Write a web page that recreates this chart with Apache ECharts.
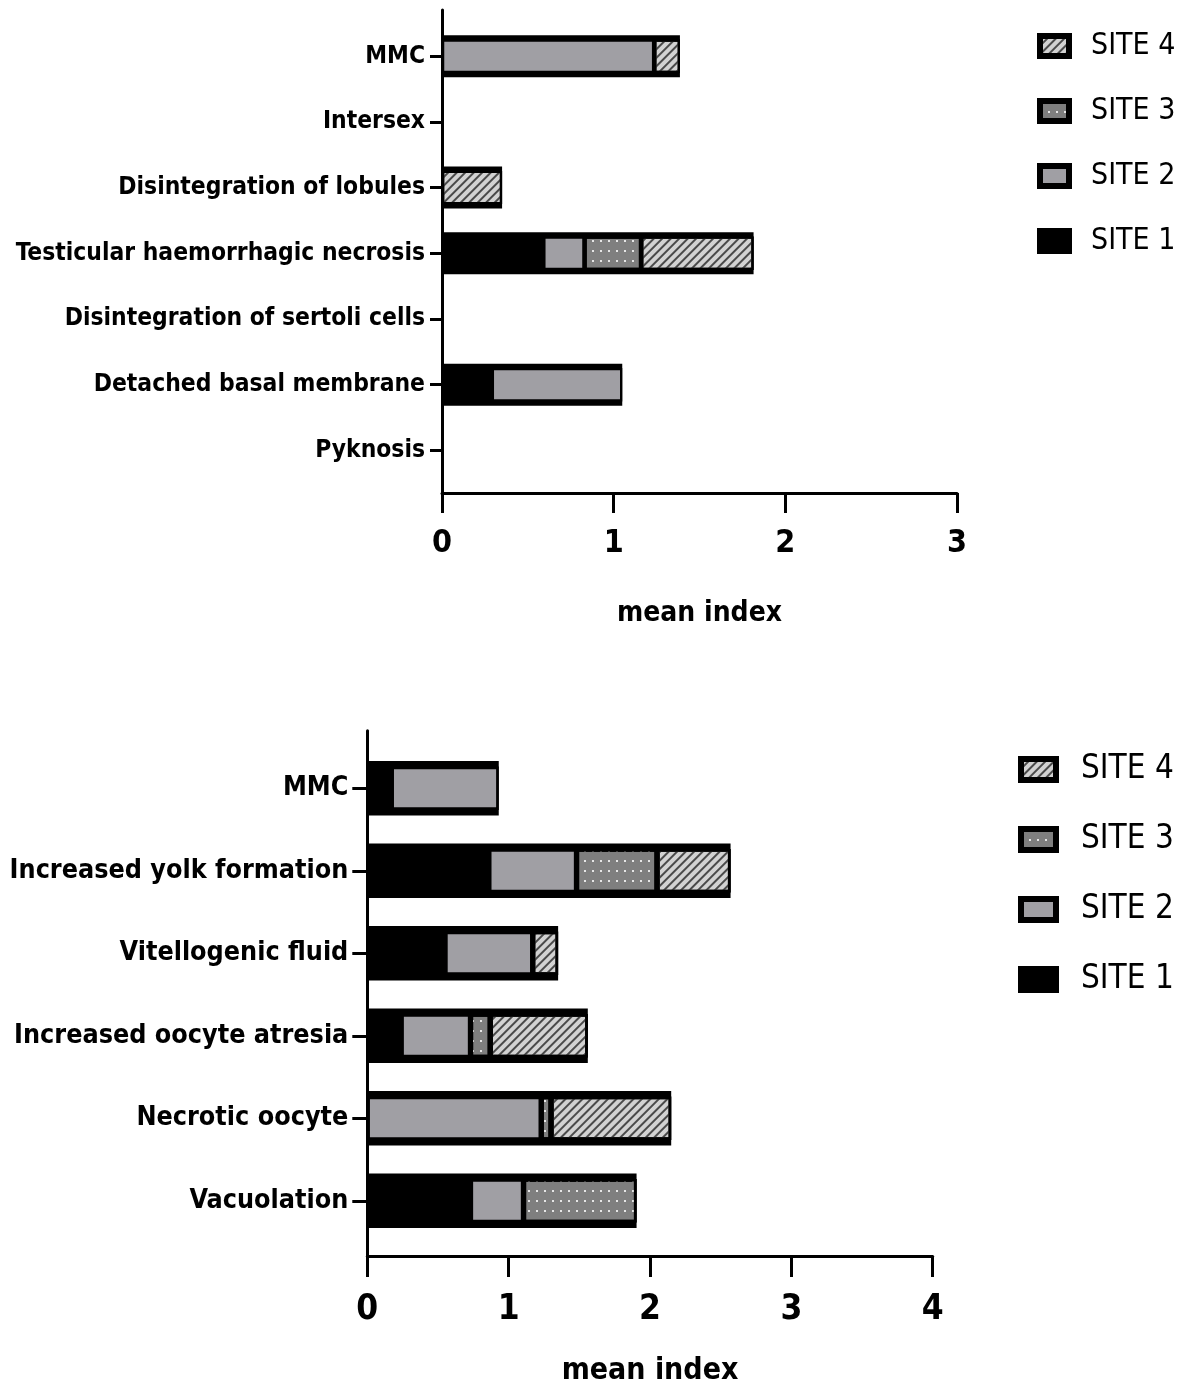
<!DOCTYPE html>
<html>
<head>
<meta charset="utf-8">
<script src="https://cdn.jsdelivr.net/npm/echarts@6/dist/echarts.min.js"></script>
<style>
html,body{margin:0;padding:0;background:#fff;}
#c{width:1185px;height:1389px;}
</style>
</head>
<body>
<div id="c"></div>
<script>
// ---- Top chart (testis) ----
const topCategories = ['MMC','Intersex','Disintegration of lobules','Testicular haemorrhagic necrosis','Disintegration of sertoli cells','Detached basal membrane','Pyknosis'];
const topSite1 = [0, 0, 0, 0.59, 0, 0.29, 0];
const topSite2 = [1.236, 0, 0, 0.24, 0, 0.76, 0];
const topSite3 = [0, 0, 0, 0.33, 0, 0, 0];
const topSite4 = [0.15, 0, 0.35, 0.655, 0, 0, 0];
const topTicks = [0, 1, 2, 3];

// ---- Bottom chart (ovary) ----
const botCategories = ['MMC','Increased yolk formation','Vitellogenic fluid','Increased oocyte atresia','Necrotic oocyte','Vacuolation'];
const botSite1 = [0.17, 0.86, 0.55, 0.24, 0, 0.73];
const botSite2 = [0.76, 0.62, 0.62, 0.49, 1.23, 0.375];
const botSite3 = [0, 0.57, 0, 0.14, 0.07, 0.8];
const botSite4 = [0, 0.52, 0.18, 0.69, 0.85, 0];
const botTicks = [0, 1, 2, 3, 4];

const legendNames = ['SITE 4','SITE 3','SITE 2','SITE 1'];
const siteNames = ['SITE 1','SITE 2','SITE 3','SITE 4'];

const FONT = '"DejaVu Sans Condensed","DejaVu Sans",sans-serif';

const siteStyles = [
  {color:'#000000'},
  {color:'#a09fa4'},
  {color:'#7f7f7f', decal:{symbol:'rect', symbolSize:1, color:'#e6e6e6', dashArrayX:[2,5.5], dashArrayY:[2,8]}},
  {color:'#d2d2d2', decal:{symbol:'rect', symbolSize:1, color:'#4a4a4a', dashArrayX:[1,0], dashArrayY:[1.6,3.6], rotation:-Math.PI/4}}
];

function makeSeries(name, idx, data, stack, axisIdx, barWidth, bw){
  const st = siteStyles[idx];
  const itemStyle = {color: st.color, borderColor:'#000', borderWidth: bw};
  if (st.decal) itemStyle.decal = st.decal;
  return {
    name: name, type:'bar', stack: stack, z: 3,
    data: data.map(v => v === 0 ? '-' : v),   // zero = no segment drawn
    xAxisIndex: axisIdx, yAxisIndex: axisIdx,
    barWidth: barWidth, itemStyle: itemStyle,
    emphasis:{disabled:true}, animation:false
  };
}
// black outline behind each stacked bar (total of the four sites)
function makeOutline(arrs, axisIdx, barWidth){
  const totals = arrs[0].map((_, i) => arrs.reduce((s, a) => s + a[i], 0));
  return {
    type:'bar', z: 2, silent:true,
    data: totals.map(v => v === 0 ? '-' : v),
    xAxisIndex: axisIdx, yAxisIndex: axisIdx,
    barWidth: barWidth, itemStyle:{color:'#000'},
    emphasis:{disabled:true}, animation:false
  };
}

const series = [];
const topArrs = [topSite1, topSite2, topSite3, topSite4];
const botArrs = [botSite1, botSite2, botSite3, botSite4];
series.push(makeOutline(topArrs, 4, 42));
series.push(makeOutline(botArrs, 5, 54.5));
topArrs.forEach((d,i)=>series.push(makeSeries(siteNames[i], i, d, 'top', 0, 33.5, 2.25)));
botArrs.forEach((d,i)=>series.push(makeSeries(siteNames[i], i, d, 'bot', 2, 43.3, 2.65)));

const frameLine = {show:true, lineStyle:{color:'#000', width:3}};
const gridBase = {outerBoundsMode:'none', containLabel:false};
const topBarGrid = {left:442, width:515, top:23.35, height:459.9};
const botBarGrid = {left:367.3, width:565.4, top:747, height:495};

const option = {
  animation:false,
  textStyle:{fontFamily:FONT, color:'#000'},
  grid:[
    Object.assign({}, topBarGrid, gridBase),                                      // 0 top bars
    Object.assign({left:442, width:515, top:10, height:483}, gridBase),          // 1 top frame
    Object.assign({}, botBarGrid, gridBase),                                      // 2 bottom bars
    Object.assign({left:367.3, width:565.4, top:730.7, height:525.3}, gridBase), // 3 bottom frame
    Object.assign({}, topBarGrid, gridBase),                                      // 4 top outlines
    Object.assign({}, botBarGrid, gridBase)                                       // 5 bottom outlines
  ],
  xAxis:[
    {gridIndex:0, type:'value', min:0, max:3, show:false},
    {gridIndex:1, type:'value', min:0, max:3, interval:1,
     axisLine:frameLine, axisTick:{show:true, length:20, lineStyle:{color:'#000', width:3}},
     splitLine:{show:false},
     axisLabel:{fontFamily:FONT, fontSize:32, fontWeight:'bold', color:'#000', margin:35, formatter:v=>String(v)},
     name:'mean index', nameLocation:'middle', nameGap:107,
     nameTextStyle:{fontFamily:FONT, fontSize:28, fontWeight:'bold', color:'#000'}},
    {gridIndex:2, type:'value', min:0, max:4, show:false},
    {gridIndex:3, type:'value', min:0, max:4, interval:1,
     axisLine:frameLine, axisTick:{show:true, length:21, lineStyle:{color:'#000', width:3}},
     splitLine:{show:false},
     axisLabel:{fontFamily:FONT, fontSize:35, fontWeight:'bold', color:'#000', margin:36, formatter:v=>String(v)},
     name:'mean index', nameLocation:'middle', nameGap:100,
     nameTextStyle:{fontFamily:FONT, fontSize:30, fontWeight:'bold', color:'#000'}},
    {gridIndex:4, type:'value', min:0, max:3, show:false},
    {gridIndex:5, type:'value', min:0, max:4, show:false}
  ],
  yAxis:[
    {gridIndex:0, type:'category', inverse:true, data:topCategories,
     axisLine:{show:false}, splitLine:{show:false},
     axisTick:{show:true, alignWithLabel:true, length:12, lineStyle:{color:'#000', width:3}},
     axisLabel:{fontFamily:FONT, fontSize:24.4, fontWeight:'bold', color:'#000', margin:17}},
    {gridIndex:1, type:'value', min:0, max:1, axisLine:frameLine,
     axisTick:{show:false}, axisLabel:{show:false}, splitLine:{show:false}},
    {gridIndex:2, type:'category', inverse:true, data:botCategories,
     axisLine:{show:false}, splitLine:{show:false},
     axisTick:{show:true, alignWithLabel:true, length:15, lineStyle:{color:'#000', width:3}},
     axisLabel:{fontFamily:FONT, fontSize:26.7, fontWeight:'bold', color:'#000', margin:19}},
    {gridIndex:3, type:'value', min:0, max:1, axisLine:frameLine,
     axisTick:{show:false}, axisLabel:{show:false}, splitLine:{show:false}},
    {gridIndex:4, type:'category', inverse:true, data:topCategories, show:false},
    {gridIndex:5, type:'category', inverse:true, data:botCategories, show:false}
  ],
  legend:[
    {orient:'vertical', left:1032, top:26, data:legendNames, icon:'rect',
     itemWidth:29, itemHeight:20, itemGap:35, selectedMode:false,
     itemStyle:{borderColor:'#000', borderWidth:6},
     textStyle:{fontFamily:FONT, fontSize:30, color:'#000', lineHeight:30, padding:[0,0,0,17]}},
    {orient:'vertical', left:1013, top:747.5, data:legendNames, icon:'rect',
     itemWidth:35, itemHeight:21, itemGap:36, selectedMode:false,
     itemStyle:{borderColor:'#000', borderWidth:6},
     textStyle:{fontFamily:FONT, fontSize:33, color:'#000', lineHeight:34, padding:[0,0,0,20]}}
  ],
  series: series
};

const chart = echarts.init(document.getElementById('c'), null, {renderer:'canvas'});
chart.setOption(option);
</script>
</body>
</html>
